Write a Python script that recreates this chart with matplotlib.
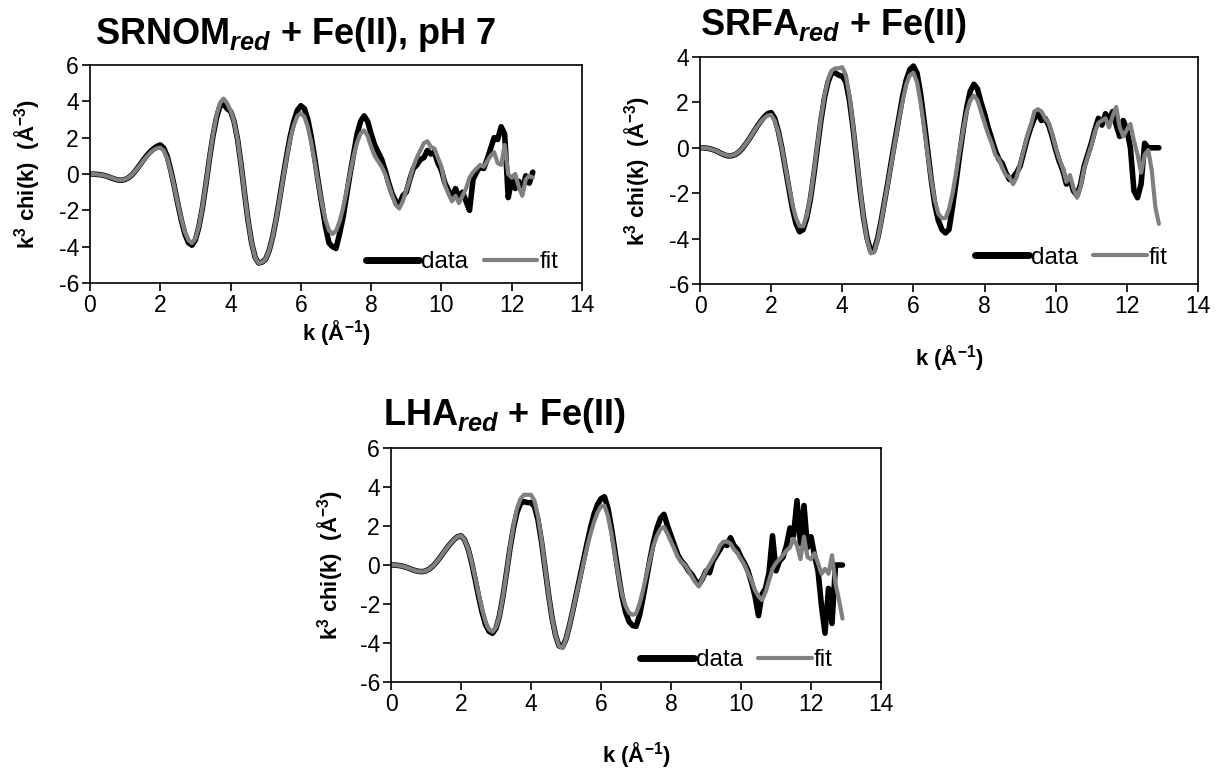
import numpy as np
import matplotlib
matplotlib.use("Agg")
import matplotlib.pyplot as plt

plt.rcParams["font.family"] = ["Liberation Sans", "DejaVu Sans"]
plt.rcParams["mathtext.fontset"] = "custom"
plt.rcParams["mathtext.rm"] = "Liberation Sans"
plt.rcParams["mathtext.bf"] = "Liberation Sans:bold"
plt.rcParams["mathtext.it"] = "Liberation Sans:italic"
plt.rcParams["mathtext.bfit"] = "Liberation Sans:bold:italic"
plt.rcParams["axes.unicode_minus"] = False

# k grids (A^-1), sampled every 0.1
k_srnom = np.round(np.arange(0, 12.65, 0.1), 1)
k_srfa = np.round(np.arange(0, 12.95, 0.1), 1)
k_lha = np.round(np.arange(0, 12.95, 0.1), 1)

# SRNOM_red + Fe(II), pH 7
data_srnom = [
    0.0, -0.005, -0.02, -0.04, -0.08, -0.14, -0.21, -0.28, -0.33, -0.34,
    -0.3, -0.2, -0.03, 0.19, 0.45, 0.72, 0.98, 1.2, 1.38, 1.52,
    1.6, 1.42, 0.95, 0.2, -0.7, -1.65, -2.55, -3.3, -3.78, -3.92,
    -3.62, -2.9, -1.85, -0.55, 0.85, 2.1, 3.1, 3.75, 3.85, 3.6,
    3.45, 2.9, 1.9, 0.5, -1.1, -2.6, -3.8, -4.6, -4.9, -4.85,
    -4.69, -4.2, -3.44, -2.45, -1.3, -0.1, 1.05, 2.1, 2.9, 3.5,
    3.76, 3.6, 3.0, 2.0, 0.8, -0.5, -1.7, -2.9, -3.8, -4.0,
    -4.1, -3.3, -2.4, -1.2, 0.0, 1.1, 2.2, 2.9, 3.2, 2.9,
    2.2, 1.6, 1.2, 0.8, 0.2, -0.5, -1.1, -1.5, -1.7, -1.2,
    -1.0, -0.3, 0.3, 0.5, 0.8, 0.9, 1.3, 1.1, 1.2, 0.6,
    0.2, -0.5, -0.9, -1.3, -0.8, -1.3, -1.0, -1.5, -2.0, -0.3,
    0.1, 0.4, 0.3, 0.8, 1.4, 2.0, 1.9, 2.6, 2.2, -1.3,
    -0.3, -0.8, -0.4, -0.9, -0.1, -0.5, 0.1,
]
fit_srnom = [
    0.0, -0.005, -0.02, -0.04, -0.08, -0.14, -0.2, -0.27, -0.32, -0.33,
    -0.29, -0.19, -0.02, 0.19, 0.43, 0.69, 0.93, 1.14, 1.31, 1.41,
    1.45, 1.29, 0.84, 0.14, -0.72, -1.63, -2.49, -3.19, -3.64, -3.8,
    -3.56, -2.87, -1.81, -0.52, 0.87, 2.16, 3.22, 3.91, 4.15, 3.9,
    3.5, 2.9, 1.9, 0.5, -1.1, -2.6, -3.8, -4.6, -4.9, -4.85,
    -4.69, -4.2, -3.44, -2.45, -1.33, -0.17, 0.95, 1.94, 2.69, 3.19,
    3.35, 3.15, 2.57, 1.69, 0.6, -0.55, -1.64, -2.52, -3.1, -3.3,
    -3.13, -2.63, -1.88, -0.95, 0.05, 0.98, 1.73, 2.23, 2.4, 2.1,
    1.5, 1.0, 0.7, 0.4, 0.0, -0.6, -1.2, -1.7, -1.9, -1.5,
    -0.9, -0.3, 0.4, 0.9, 1.3, 1.7, 1.8, 1.5, 1.4, 0.9,
    0.4, -0.6, -1.1, -1.5, -1.2, -1.6, -1.2, -0.8, -0.2, 0.1,
    0.3, 0.5, 0.4, 0.7, 1.0, 1.2, 0.6, 0.5, 1.6, 0.0,
    -0.2, 0.0, -0.7, -1.2, -0.3, -0.1, -0.2,
]

# SRFA_red + Fe(II)
data_srfa = [
    0.0, 0.0, -0.02, -0.05, -0.1, -0.17, -0.25, -0.32, -0.36, -0.35,
    -0.29, -0.18, -0.01, 0.2, 0.43, 0.68, 0.93, 1.15, 1.35, 1.5,
    1.55, 1.3, 0.75, 0.0, -0.9, -1.8, -2.7, -3.35, -3.7, -3.6,
    -3.1, -2.3, -1.2, 0.0, 1.2, 2.2, 2.9, 3.3, 3.3, 3.2,
    3.15, 2.9, 2.1, 0.9, -0.5, -1.9, -3.1, -4.0, -4.55, -4.5,
    -3.95, -3.15, -2.25, -1.35, -0.4, 0.5, 1.4, 2.3, 3.0, 3.45,
    3.6, 3.3, 2.4, 1.2, -0.1, -1.4, -2.5, -3.2, -3.6, -3.75,
    -3.6, -2.6, -1.5, -0.3, 0.8, 1.8, 2.5, 2.8, 2.6, 2.0,
    1.5, 0.9, 0.4, -0.1, -0.5, -0.7, -1.1, -1.4, -1.3, -1.1,
    -0.8, -0.2, 0.4, 0.9, 1.3, 1.5, 1.2, 1.3, 1.0, 0.5,
    -0.1, -0.6, -1.0, -1.6, -1.4, -1.9, -2.1, -1.6, -0.8, -0.3,
    0.2, 0.8, 1.3, 1.0, 1.5, 1.2, 1.6, 1.0, 0.5, 1.2,
    0.8, 0.0, -1.9, -2.2, -1.6, 0.2, 0.0, 0.0, 0.0, 0.0,
]
fit_srfa = [
    0.0, 0.0, -0.02, -0.05, -0.1, -0.17, -0.25, -0.31, -0.35, -0.34,
    -0.28, -0.17, 0.0, 0.2, 0.43, 0.68, 0.92, 1.13, 1.3, 1.42,
    1.45, 1.2, 0.7, 0.0, -0.85, -1.7, -2.5, -3.1, -3.45, -3.45,
    -3.0, -2.2, -1.1, 0.1, 1.3, 2.3, 3.0, 3.4, 3.5, 3.5,
    3.55, 3.2, 2.3, 1.0, -0.4, -1.8, -3.1, -4.1, -4.65, -4.6,
    -4.0, -3.2, -2.3, -1.4, -0.5, 0.4, 1.3, 2.1, 2.8, 3.2,
    3.3, 2.9, 2.0, 0.9, -0.3, -1.4, -2.3, -2.9, -3.1, -3.1,
    -2.7, -2.0, -1.1, -0.1, 0.8, 1.6, 2.1, 2.3, 2.1, 1.6,
    1.1, 0.6, 0.2, -0.3, -0.5, -0.9, -1.2, -1.3, -1.6, -1.3,
    -0.7, -0.1, 0.5, 1.0, 1.6, 1.7, 1.6, 1.3, 1.1, 0.6,
    0.0, -0.5, -0.9, -1.5, -1.2, -1.8, -2.2, -1.7, -0.9, -0.4,
    0.1, 0.7, 1.1, 1.2, 1.3, 0.9, 1.4, 1.8, 0.9, 0.5,
    0.8, 1.05, 0.3, -0.3, -1.1, -0.3, -0.1, -1.0, -2.6, -3.35,
]

# LHA_red + Fe(II)
data_lha = [
    0.0, 0.0, -0.02, -0.05, -0.1, -0.16, -0.23, -0.29, -0.33, -0.34,
    -0.3, -0.2, -0.05, 0.15, 0.38, 0.63, 0.88, 1.1, 1.3, 1.45,
    1.5, 1.3, 0.85, 0.15, -0.7, -1.6, -2.4, -3.05, -3.4, -3.5,
    -3.25, -2.6, -1.6, -0.4, 0.85, 1.9, 2.7, 3.15, 3.25, 3.2,
    3.2, 3.0, 2.3, 1.2, -0.15, -1.5, -2.7, -3.6, -4.15, -4.2,
    -3.8, -3.1, -2.3, -1.45, -0.6, 0.25, 1.1, 1.9, 2.6, 3.1,
    3.4, 3.5, 2.9, 1.9, 0.7, -0.5, -1.6, -2.4, -2.9, -3.1,
    -3.15, -2.6, -1.7, -0.7, 0.3, 1.2, 1.9, 2.4, 2.6, 2.0,
    1.5, 1.0, 0.5, 0.2, 0.0, -0.3, -0.5, -0.8, -1.0, -0.7,
    -0.3, -0.4, 0.2, 0.5, 0.8, 1.1, 1.0, 1.4, 1.0, 0.8,
    0.4, 0.1, -0.3, -0.9, -1.6, -2.6, -1.5, -1.2, -0.4, 1.5,
    -0.3, 0.2, 0.4, 1.0, 1.9, 1.5, 3.3, 1.1, 3.05, 0.9,
    1.45, 0.5, -0.3, -2.1, -3.5, -1.2, -3.0, 0.0, 0.0, 0.0,
]
fit_lha = [
    0.0, 0.0, -0.02, -0.05, -0.1, -0.16, -0.23, -0.29, -0.33, -0.34,
    -0.3, -0.2, -0.05, 0.15, 0.38, 0.63, 0.88, 1.1, 1.3, 1.45,
    1.5, 1.3, 0.85, 0.2, -0.6, -1.45, -2.25, -2.9, -3.3, -3.42,
    -3.2, -2.6, -1.6, -0.4, 0.9, 2.0, 2.9, 3.4, 3.6, 3.6,
    3.6, 3.3, 2.5, 1.3, -0.1, -1.5, -2.7, -3.6, -4.15, -4.25,
    -3.8, -3.1, -2.3, -1.5, -0.7, 0.1, 0.9, 1.6, 2.2, 2.7,
    3.0, 3.05, 2.5, 1.6, 0.5, -0.6, -1.5, -2.1, -2.45, -2.55,
    -2.5, -2.0, -1.3, -0.5, 0.3, 1.0, 1.5, 1.85, 1.95, 1.6,
    1.2, 0.8, 0.4, 0.15, 0.0, -0.3, -0.6, -0.9, -1.1, -0.7,
    -0.3, 0.0, 0.3, 0.6, 1.0, 1.2, 1.2, 1.1, 0.8, 0.6,
    0.3, 0.0, -0.4, -0.8, -1.3, -1.6, -1.8, -1.4, -0.8, -0.2,
    0.1, 0.3, 0.5, 0.75, 0.9, 1.35, 1.0, 0.3, 1.45, 0.4,
    0.3, 0.6, 0.1, -0.45, -0.2, -0.45, 0.5, -0.95, -1.8, -2.75,
]

W, H = 1219, 772
fig = plt.figure(figsize=(W / 100, H / 100), dpi=100)


def px_axes(left, top, right, bottom):
    return fig.add_axes([left / W, 1 - bottom / H, (right - left) / W, (bottom - top) / H])


panels = [
    # (axes box px, k, data, fit, ylim, title, title pos px, ylabel dx, xlabel dy, legend center)
    ((90, 65, 582, 283), k_srnom, data_srnom, fit_srnom, (-6, 6),
     r"SRNOM$_{\mathbfit{red}}$ + Fe(II), pH 7", (95, 44), 48, 35, (0.756, 0.096)),
    ((700, 57, 1198, 284), k_srfa, data_srfa, fit_srfa, (-6, 4),
     r"SRFA$_{\mathbfit{red}}$ + Fe(II)", (700, 35), 48, 59, (0.746, 0.115)),
    ((391, 448, 881, 682), k_lha, data_lha, fit_lha, (-6, 6),
     r"LHA$_{\mathbfit{red}}$ + Fe(II)", (383, 425), 46, 58, (0.705, 0.094)),
]

for box, k, dat, fit, ylim, title, tpos, ydx, xdy, legc in panels:
    ax = px_axes(*box)
    w_px = box[2] - box[0]
    h_px = box[3] - box[1]
    ax.plot(k, dat, color="black", lw=4.0, label="data", solid_capstyle="round")
    ax.plot(k, fit, color="#808080", lw=3.0, label="fit", solid_capstyle="round")
    ax.set_xlim(0, 14)
    ax.set_ylim(*ylim)
    ax.set_xticks(np.arange(0, 15, 2))
    ax.set_yticks(np.arange(ylim[0], ylim[1] + 1, 2))
    ax.tick_params(direction="out", length=6, width=1.2, labelsize=16.5, pad=2)
    for sp in ax.spines.values():
        sp.set_linewidth(1.2)
    ax.set_xlabel(r"k (Å$^{\mathbf{-1}}$)", fontsize=16, fontweight="bold")
    ax.set_ylabel(r"k$^{\mathbf{3}}$ chi(k)  (Å$^{\mathbf{-3}}$)", fontsize=16, fontweight="bold")
    ax.xaxis.set_label_coords(0.5, -xdy / h_px)
    ax.yaxis.set_label_coords(-ydx / w_px, 0.5)
    leg = ax.legend(loc="center", bbox_to_anchor=legc, ncol=2, frameon=False, fontsize=17.5,
                    handlelength=2.2, handletextpad=0.08, columnspacing=0.65,
                    borderaxespad=0, borderpad=0)
    leg.get_lines()[0].set_linewidth(5.0)
    fig.text(tpos[0] / W, 1 - tpos[1] / H, title, fontsize=26, fontweight="bold",
             ha="left", va="baseline")

fig.savefig("out.png", dpi=100)
